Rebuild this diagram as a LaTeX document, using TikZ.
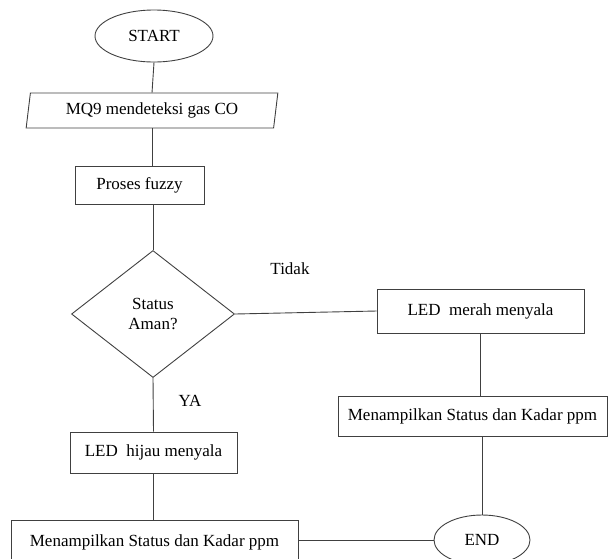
\documentclass[tikz,border=0pt]{standalone}
\usepackage{fontspec}
\setmainfont{Liberation Serif}
\usetikzlibrary{shapes.geometric}

\begin{document}
\begin{tikzpicture}[x=1pt,y=-1pt,line width=0.9pt,
  font=\fontsize{17}{20}\selectfont,
  terminal/.style={draw=black!75,ellipse,inner sep=0pt},
  proses/.style={draw=black!75,rectangle,inner sep=0pt},
  masukan/.style={draw=black!75,trapezium,trapezium left angle=79,trapezium right angle=101,
    trapezium stretches=true,inner sep=0pt},
  keputusan/.style={draw=black!75,diamond,inner sep=0pt,align=center}]
  \clip (0,0) rectangle (609,558);
  \node[terminal,minimum width=118pt,minimum height=52pt] (start) at (154,36) {START};
  \node[masukan,minimum width=252pt,minimum height=35pt] (input) at (152,110.5) {MQ9 mendeteksi gas CO};
  \node[proses,minimum width=129pt,minimum height=38pt] (fuzzy) at (139.5,185) {Proses fuzzy};
  \node[keputusan,minimum width=163pt,minimum height=127pt] (cek) at (153,314) {Status\\Aman?};
  \node[proses,minimum width=207pt,minimum height=44pt] (merah) at (480.5,311) {LED\ \ merah menyala};
  \node[proses,minimum width=269pt,minimum height=40pt] (tampil2) at (472.5,416) {Menampilkan Status dan Kadar ppm};
  \node[proses,minimum width=167pt,minimum height=41pt] (hijau) at (153.5,452.5) {LED\ \ hijau menyala};
  \node[proses,minimum width=287pt,minimum height=44pt] (tampil1) at (154.5,542) {Menampilkan Status dan Kadar ppm};
  \node[terminal,minimum width=96pt,minimum height=50pt] (akhir) at (482,540) {END};
  \node (tidak) at (290,269) {Tidak};
  \node (ya) at (190,401) {YA};
  \draw[black!75] (start.south) -- (input.north);
  \draw[black!75] (input.south) -- (input.south |- fuzzy.north);
  \draw[black!75] (cek.north |- fuzzy.south) -- (cek.north);
  \draw[black!75] (cek.east) -- (merah.west);
  \draw[black!75] (merah.south) -- (merah.south |- tampil2.north);
  \draw[black!75] (tampil2.south -| akhir.north) -- (akhir.north);
  \draw[black!75] (cek.south) -- (hijau.north);
  \draw[black!75] (hijau.south) -- (hijau.south |- tampil1.north);
  \draw[black!75] (tampil1.east |- akhir.west) -- (akhir.west);
\end{tikzpicture}
\end{document}
